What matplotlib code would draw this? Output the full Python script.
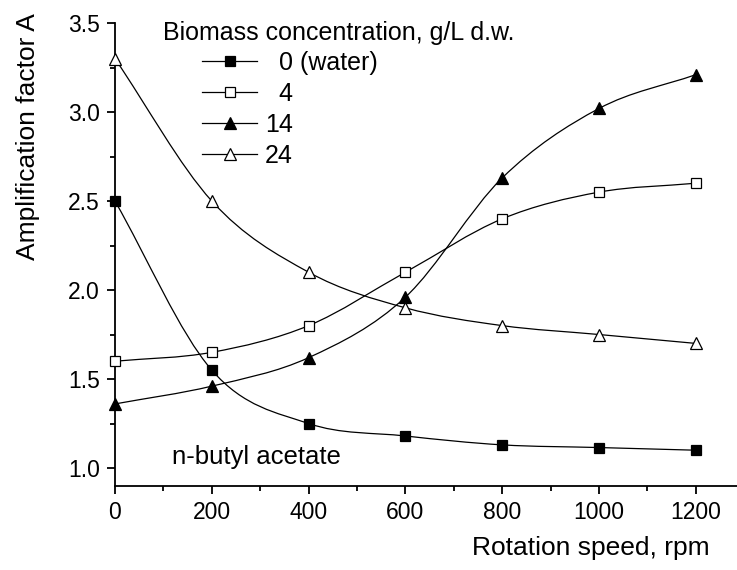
import numpy as np
import matplotlib
matplotlib.use('Agg')
import matplotlib.pyplot as plt
from matplotlib.path import Path
from matplotlib.patches import PathPatch
from matplotlib.lines import Line2D

plt.rcParams['font.family'] = ['Liberation Sans', 'DejaVu Sans']

# Data
speed = [0, 200, 400, 600, 800, 1000, 1200]
amp_water = [2.50, 1.55, 1.25, 1.18, 1.13, 1.115, 1.10]
amp_4 = [1.60, 1.65, 1.80, 2.10, 2.40, 2.55, 2.60]
amp_14 = [1.36, 1.46, 1.62, 1.96, 2.63, 3.02, 3.21]
amp_24 = [3.30, 2.50, 2.10, 1.90, 1.80, 1.75, 1.70]
labels = ['  0 (water)', '  4', '14', '24']
markers = ['s', 's', '^', '^']
fills = ['black', 'white', 'black', 'white']


def smooth_path(x, y):
    """Catmull-Rom curve through the points, as cubic Bezier segments."""
    x = np.asarray(x, float)
    y = np.asarray(y, float)
    px = np.concatenate([[2 * x[0] - x[1]], x, [2 * x[-1] - x[-2]]])
    py = np.concatenate([[2 * y[0] - y[1]], y, [2 * y[-1] - y[-2]]])
    verts = [(x[0], y[0])]
    codes = [Path.MOVETO]
    for i in range(1, len(px) - 2):
        c1 = (px[i] + (px[i + 1] - px[i - 1]) / 6, py[i] + (py[i + 1] - py[i - 1]) / 6)
        c2 = (px[i + 1] - (px[i + 2] - px[i]) / 6, py[i + 1] - (py[i + 2] - py[i]) / 6)
        verts += [c1, c2, (px[i + 1], py[i + 1])]
        codes += [Path.CURVE4] * 3
    return Path(verts, codes)


fig = plt.figure(figsize=(7.37, 5.70), dpi=100)
ax = fig.add_axes([0.156, 0.1477, 0.844, 0.8119])

handles = []
for ys, lab, mk, fc in zip([amp_water, amp_4, amp_14, amp_24], labels, markers, fills):
    ax.add_patch(PathPatch(smooth_path(speed, ys), facecolor='none',
                           edgecolor='black', lw=0.9, zorder=2))
    ms = 7 if mk == 's' else 8.5
    ax.plot(speed, ys, linestyle='none', marker=mk, ms=ms, mfc=fc,
            mec='black', mew=0.9, zorder=3, clip_on=False)
    handles.append(Line2D([], [], color='black', lw=0.9, marker=mk, ms=ms,
                          mfc=fc, mec='black', mew=0.9, label=lab))

ax.set_xlim(0, 1285)
ax.set_ylim(0.9, 3.5)
ax.set_xticks(np.arange(0, 1201, 200))
ax.set_xticks(np.arange(100, 1201, 200), minor=True)
ax.set_yticks([1.0, 1.5, 2.0, 2.5, 3.0, 3.5])
ax.set_yticks([1.25, 1.75, 2.25, 2.75, 3.25], minor=True)
ax.set_yticklabels(['1.0', '1.5', '2.0', '2.5', '3.0', '3.5'])

for side in ['top', 'right']:
    ax.spines[side].set_visible(False)
for side in ['left', 'bottom']:
    ax.spines[side].set_linewidth(1.3)
ax.tick_params(which='major', direction='out', length=6, width=1.3, labelsize=16.5, pad=5)
ax.tick_params(which='minor', direction='out', length=3.5, width=1.3)

fig.text(28 / 737, 1 - 13 / 570, 'Amplification factor A', rotation=90,
         ha='center', va='top', fontsize=19)
fig.text(710 / 737, 1 - 548 / 570, 'Rotation speed, rpm', ha='right',
         va='center', fontsize=19)

ax.text(99, 3.444, 'Biomass concentration, g/L d.w.', ha='left', va='center', fontsize=18)
ax.text(118, 1.06, 'n-butyl acetate', ha='left', va='center', fontsize=18.5)

ax.legend(handles=handles, loc='upper left', bbox_to_anchor=(0.14, 0.94),
          frameon=False, fontsize=18, borderpad=0, borderaxespad=0,
          handlelength=2.2, handletextpad=0.32, labelspacing=0.28, numpoints=1)

fig.savefig('out.png', dpi=100)
